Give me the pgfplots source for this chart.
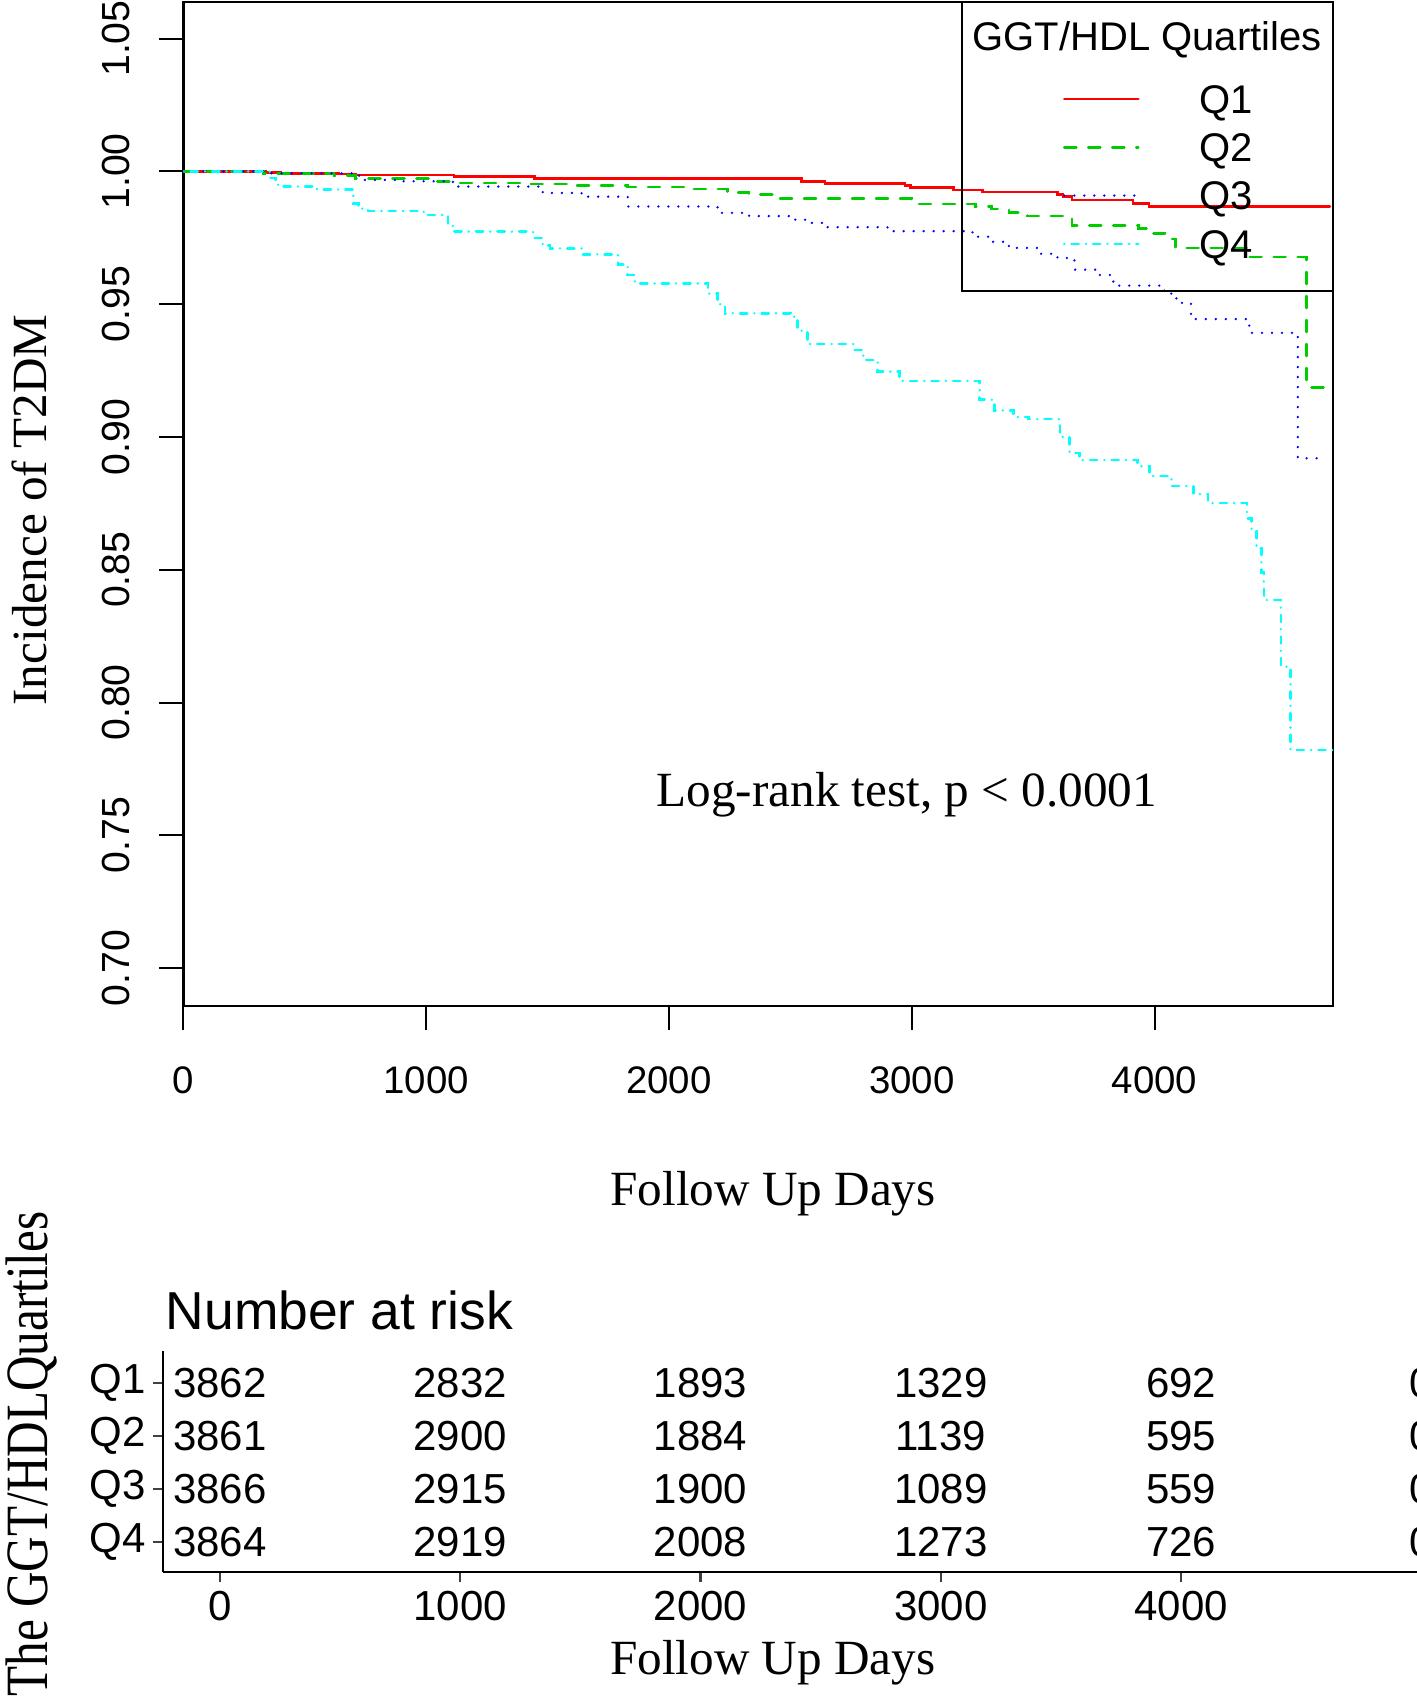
\documentclass[border=0pt]{standalone}
\usepackage{fontspec}
\setmainfont{Liberation Serif}
\newfontfamily\arial{Liberation Sans}
\usepackage{pgfplots}
\pgfplotsset{compat=1.18}
\definecolor{rred}{HTML}{FF0000}
\definecolor{rgreen}{HTML}{00CD00}
\definecolor{rblue}{HTML}{0000FF}
\definecolor{rcyan}{HTML}{00FFFF}
\newcommand{\serifbig}{\fontsize{12.3}{14}\selectfont}
\begin{document}
\begin{tikzpicture}
\useasboundingbox (0pt,0pt) rectangle (354pt,-425.5pt);
% ---------------- main Kaplan-Meier axis ----------------
\begin{axis}[
  at={(45.85pt,-0.5pt)}, anchor=north west,
  scale only axis, width=287.4pt, height=251pt,
  xmin=0, xmax=4735, ymin=0.6857, ymax=1.0638,
  clip mode=individual,
  axis line style={line width=0.6pt},
  xtick={0,1000,2000,3000,4000},
  xticklabels={0,1000,2000,3000,4000},
  ytick={0.70,0.75,0.80,0.85,0.90,0.95,1.00,1.05},
  yticklabels={0.70,0.75,0.80,0.85,0.90,0.95,1.00,1.05},
  tick pos=left, tick align=outside, major tick length=6pt,
  tick style={black, line width=0.5pt},
  xticklabel style={anchor=center, yshift=-12.5pt, font=\arial\fontsize{9.6}{11}\selectfont},
  yticklabel style={anchor=center, xshift=-10.85pt, rotate=90, font=\arial\fontsize{9.8}{11}\selectfont},
  xlabel={Follow Up Days},
  xlabel style={at={(axis description cs:0.5129,-0.1867)}, anchor=center, font=\serifbig},
  ylabel={Incidence of T2DM},
  ylabel style={at={(axis description cs:-0.1340,0.494)}, anchor=center, font=\serifbig},
  legend image code/.code={\draw[#1] (0pt,0pt) -- (18.5pt,0pt);},
  legend cell align=left,
  legend style={draw=none, fill=none, at={(axis cs:3623,1.0327)}, anchor=north west,
    inner sep=0pt, outer sep=0pt, row sep=4.92pt, column sep=15pt,
    font=\arial\fontsize{10}{12}\selectfont,
    nodes={inner sep=0pt, text height=7.16pt, text depth=0pt}},
  every axis plot/.append style={line width=0.65pt, line cap=round, const plot},
]
% Q1
\addplot[rred] coordinates {
(0,1.0) (340,0.9996) (400,0.9992) (640,0.9990) (710,0.9987) (1115,0.9980)
(1445,0.9974) (2546,0.9962) (2642,0.9955) (2972,0.9947) (2996,0.9939)
(3173,0.9930) (3291,0.9923) (3601,0.9914) (3623,0.9905) (3660,0.9893)
(3911,0.9880) (3977,0.9868) (4722,0.9868)};
\addlegendentry{Q1}
% Q2
\addplot[rgreen, dash pattern=on 3pt off 3pt] coordinates {
(0,1.0) (330,0.9993) (620,0.9984) (710,0.9974) (1020,0.9962) (1115,0.9957)
(1395,0.9952) (1615,0.9946) (1830,0.9942) (2100,0.9934) (2240,0.9920)
(2330,0.9913) (2430,0.9897) (3000,0.9878) (3262,0.9868) (3328,0.9858)
(3400,0.9845) (3476,0.9832) (3660,0.9796) (3934,0.9786) (3977,0.9767)
(4043,0.9746) (4087,0.9711) (4390,0.9677) (4627,0.9187) (4715,0.9187)};
\addlegendentry{Q2}
% Q3
\addplot[rblue, dash pattern=on 0pt off 2.5pt] coordinates {
(0,1.0) (330,0.9993) (715,0.9984) (740,0.9968) (900,0.9963) (1110,0.9943)
(1480,0.9919) (1640,0.9905) (1830,0.9868) (2200,0.9844) (2330,0.9832)
(2520,0.9818) (2580,0.9806) (2630,0.9790) (2900,0.9775) (3250,0.9754)
(3330,0.9735) (3400,0.9712) (3520,0.9690) (3600,0.9674) (3670,0.9630)
(3760,0.9610) (3830,0.9570) (4040,0.9540) (4090,0.9505) (4150,0.9444)
(4390,0.9392) (4590,0.8920) (4695,0.8920)};
\addlegendentry{Q3}
% Q4
\addplot[rcyan, dash pattern=on 0pt off 1.8pt on 1.8pt off 1.8pt] coordinates {
(0,1.0) (355,0.9975) (380,0.9950) (400,0.9943) (550,0.9932) (700,0.9880)
(720,0.9860) (760,0.9851) (990,0.9836) (1090,0.9800) (1110,0.9773)
(1440,0.9750) (1480,0.9720) (1510,0.9710) (1640,0.9688) (1790,0.9650)
(1830,0.9610) (1860,0.9578) (2160,0.9540) (2200,0.9500) (2230,0.9466)
(2500,0.9453) (2530,0.9400) (2570,0.9350) (2760,0.9328) (2800,0.9290)
(2860,0.9246) (2950,0.9211) (3280,0.9140) (3340,0.9100) (3420,0.9075)
(3480,0.9067) (3610,0.9000) (3650,0.8940) (3690,0.8913) (3930,0.8890)
(3980,0.8853) (4070,0.8815) (4160,0.8785) (4220,0.8751) (4380,0.8694)
(4400,0.8644) (4420,0.8580) (4440,0.8490) (4450,0.8386) (4520,0.8135)
(4560,0.7821) (4735,0.7821)};
\addlegendentry{Q4}
\draw[line width=0.6pt] (axis cs:3207,0.955) rectangle (axis description cs:1,1);
\node[font=\arial\fontsize{10}{12}\selectfont] at (axis cs:3969,1.0494) {GGT/HDL Quartiles};
\node[font=\serifbig] at (axis cs:2980,0.7654) {Log-rank test, p < 0.0001};
\end{axis}
% ---------------- number at risk table ----------------
\begin{axis}[
  at={(40.75pt,-337.75pt)}, anchor=north west,
  scale only axis, width=334.25pt, height=55.25pt,
  xmin=-237.2, xmax=5327, ymin=0.43, ymax=4.61,
  clip=false,
  axis x line=bottom, axis y line=left,
  axis line style={-, line width=0.6pt},
  xtick={0,1000,2000,3000,4000},
  xticklabels={0,1000,2000,3000,4000},
  ytick={1,2,3,4}, yticklabels={Q4,Q3,Q2,Q1},
  tick align=outside, major tick length=2.4pt,
  tick style={black!75, line width=0.6pt},
  xticklabel style={anchor=center, yshift=-6.1pt, font=\arial\fontsize{10.5}{12}\selectfont},
  yticklabel style={anchor=east, inner sep=0pt, xshift=-1.65pt, font=\arial\fontsize{10.5}{12}\selectfont},
  xlabel={Follow Up Days},
  xlabel style={at={(axis description cs:0.4562,-0.4127)}, anchor=center, font=\serifbig},
  ylabel={The GGT/HDLQuartiles},
  ylabel style={at={(axis description cs:-0.0984,0.534)}, anchor=center, font=\serifbig, yscale=1.22},
]
\addplot[draw=none, mark=none, nodes near coords, point meta=explicit symbolic,
  every node near coord/.append style={anchor=center, inner sep=0pt, font=\arial\fontsize{10.5}{12}\selectfont}]
  table[meta=n] {
x y n
0 4 3862
1000 4 2832
2000 4 1893
3000 4 1329
4000 4 692
5000 4 0
0 3 3861
1000 3 2900
2000 3 1884
3000 3 1139
4000 3 595
5000 3 0
0 2 3866
1000 2 2915
2000 2 1900
3000 2 1089
4000 2 559
5000 2 0
0 1 3864
1000 1 2919
2000 1 2008
3000 1 1273
4000 1 726
5000 1 0
};
\node[anchor=west, inner sep=0pt, font=\arial\fontsize{13.35}{15}\selectfont] at (axis description cs:0.0015,1.1855) {Number at risk};
\end{axis}
\end{tikzpicture}
\end{document}
